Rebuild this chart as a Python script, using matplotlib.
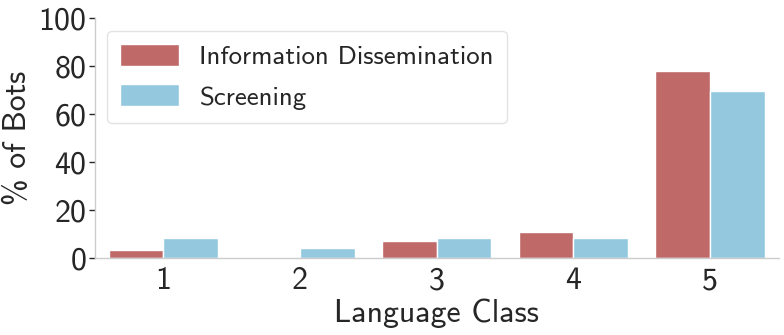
import numpy as np
import matplotlib
matplotlib.use('Agg')
import matplotlib.pyplot as plt

plt.rcParams['font.family'] = ['cmss10', 'DejaVu Sans']
plt.rcParams['axes.formatter.use_mathtext'] = True
plt.rcParams['mathtext.fontset'] = 'cm'

########## Data
classes = ['1', '2', '3', '4', '5']
info_dissemination = [3.5, 0.0, 7.1, 10.8, 77.9]
screening = [8.3, 4.2, 8.3, 8.3, 69.6]

color_info = '#bf6969'
color_screen = '#93c8df'

########## Figure
fig, ax = plt.subplots(figsize=(7.84, 3.35), dpi=100)
fig.subplots_adjust(left=0.121, right=0.993, top=0.945, bottom=0.23)

x = np.arange(len(classes))
w = 0.4
ax.bar(x - w / 2, info_dissemination, w, color=color_info, edgecolor='white',
       linewidth=1, label='Information Dissemination')
ax.bar(x + w / 2, screening, w, color=color_screen, edgecolor='white',
       linewidth=1, label='Screening')

ax.set_xlim(-0.5, 4.5)
ax.set_ylim(0, 100)
ax.set_xticks(x)
ax.set_xticklabels(classes)
ax.set_yticks([0, 20, 40, 60, 80, 100])

ax.tick_params(axis='both', labelsize=23, colors='#262626')
ax.tick_params(axis='x', length=0, pad=6)
ax.tick_params(axis='y', length=4, width=1, color='#262626', pad=2)

for side in ['top', 'right']:
    ax.spines[side].set_visible(False)
for side in ['left', 'bottom']:
    ax.spines[side].set_color('#cccccc')
    ax.spines[side].set_linewidth(1)

ax.set_xlabel('Language Class', fontsize=23, color='#262626', labelpad=2)
ax.set_ylabel('% of Bots', fontsize=23, color='#262626', labelpad=4)

leg = ax.legend(loc='upper left', fontsize=19.3, frameon=True, handlelength=2.2,
                handleheight=0.9, handletextpad=0.75, borderpad=0.5,
                labelspacing=0.55, bbox_to_anchor=(-0.002, 1.005))
leg.get_frame().set_edgecolor('#dddddd')
for t in leg.get_texts():
    t.set_color('#262626')

plt.savefig('out.png')
plt.close()
